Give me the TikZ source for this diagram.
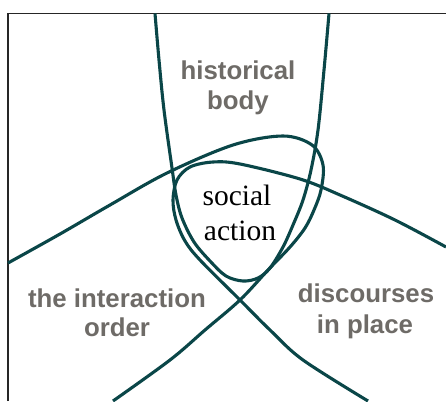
\documentclass[tikz,border=0pt]{standalone}
\usepackage{fontspec}
\setmainfont{Liberation Serif}
\newfontfamily\labelfont{Liberation Sans}
\definecolor{curvecol}{HTML}{0A4648}
\definecolor{labelcol}{HTML}{6E6B67}
\begin{document}
\begin{tikzpicture}[x=1pt,y=-1pt,
  loop/.style={draw=curvecol,line width=3.1pt,line join=round},
  frame/.style={draw=black!85,line width=1.3pt},
  lbl/.style={anchor=base,inner sep=0pt,text=labelcol,font=\labelfont\bfseries\fontsize{25.8}{30}\selectfont},
  core/.style={anchor=base,inner sep=0pt,text=black,font=\fontsize{29.5}{35}\selectfont}]
\useasboundingbox (0,0) rectangle (446,401);
\fill[white] (0,0) rectangle (446,401);
% frame
\draw[frame] (8,401) -- (8,13.5) -- (446,13.5);
% historical body loop
\draw[loop] plot[smooth,tension=0.55] coordinates {
  (155,13.5) (159,60) (164,110) (172,168) (176,195) (182,218) (194,242)
  (210,261) (226,276) (243,281) (258,278) (270,268) (283,247) (293,225)
  (303,200) (311,170) (318,130) (324,70) (329,13.5)};
% interaction order loop
\draw[loop] plot[smooth,tension=0.55] coordinates {
  (8,263) (60,234) (110,205) (167,173) (233,145) (283,136) (312,145)
  (323,165) (321,190) (314,210) (305,228) (290,247) (268,270) (240,300)
  (205,330) (170,360) (113,401)};
% discourses in place loop
\draw[loop] plot[smooth,tension=0.55] coordinates {
  (446,247) (395,220) (340,195) (300,179) (240,164) (213,162) (190,167)
  (177,180) (173,200) (176,220) (185,241) (200,260) (240,300) (270,330)
  (303,360) (368,401)};
% labels
\node[lbl] (hb1) at (238,80) {historical};
\node[lbl] (hb2) at (238,110) {body};
\node[lbl] (io1) at (117,307) {the interaction};
\node[lbl] (io2) at (117,336) {order};
\node[lbl] (dp1) at (366,302) {discourses};
\node[lbl] (dp2) at (365,333) {in place};
\node[core] (sa1) at (237,205) {social};
\node[core] (sa2) at (240,240) {action};
\end{tikzpicture}
\end{document}
